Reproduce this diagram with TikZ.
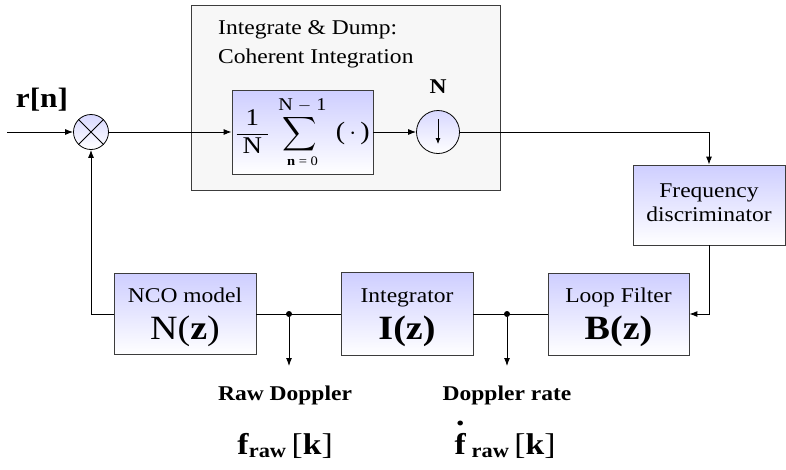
\documentclass[tikz,border=0pt]{standalone}
\usepackage{amsmath}
\usepackage{fontspec}
\setmainfont{Liberation Serif}[FakeStretch=1.12]
\usepackage{tikz}
\usetikzlibrary{arrows.meta, positioning, calc}
\definecolor{boxblue}{RGB}{206, 206, 255}
\definecolor{boxedge}{RGB}{60, 60, 60}
\definecolor{dumpgray}{RGB}{247, 247, 247}
\tikzset{
    block/.style={rectangle, draw=boxedge, top color=boxblue, bottom color=white, line width=0.8pt, align=center, inner sep=2pt, font=\fontsize{21}{24}\selectfont},
    tfblock/.style={block, font=\fontsize{34}{37}\selectfont},
    junction/.style={circle, draw=black, top color=boxblue!80, bottom color=white, line width=0.8pt, minimum size=35pt, inner sep=0pt},
    sig/.style={line width=0.9pt, -{Latex[length=8pt,width=6pt]}},
    wire/.style={line width=0.9pt},
    tap/.style={circle, fill=black, inner sep=0pt, minimum size=6pt},
    outlabel/.style={anchor=base, font=\fontsize{21}{24}\selectfont\bfseries},
    outsymbol/.style={anchor=base, font=\fontsize{30}{32}\selectfont}
}

\begin{document}
\begin{tikzpicture}[x=1pt, y=-1pt]
    \useasboundingbox (0,0) rectangle (786,469);

    % Integrate & Dump frame
    \draw[draw=boxedge, fill=dumpgray, line width=0.8pt] (191,5) rectangle (500,190);
    \node[anchor=base west, inner sep=0pt, font=\fontsize{21}{24}\selectfont] (dumptitle) at (218,34) {Integrate \& Dump:};
    \node[anchor=base west, inner sep=0pt, font=\fontsize{21}{24}\selectfont] (dumpsub) at (218,63) {Coherent Integration};

    % Forward path
    \node[junction] (mult) at (91,132) {};
    \draw[line width=0.8pt] (mult.north west) -- (mult.south east);
    \draw[line width=0.8pt] (mult.north east) -- (mult.south west);
    \node[font=\fontsize{28}{30}\selectfont\bfseries] (rin) at (42,100) {r[n]};
    \coordinate (in) at (7,132);

    \node[block, minimum width=141pt, minimum height=84pt] (avg) at (302.5,132)
        {$\displaystyle\frac{\hspace{9pt}\text{\fontsize{24}{26}\selectfont 1}\hspace{9pt}}{\text{\fontsize{24}{26}\selectfont N}}\;
         \mathop{\scalebox{1.15}{$\displaystyle\sum$}}\limits_{\text{\fontsize{13}{14}\selectfont\textbf{n} = 0}}^{\text{\fontsize{18}{20}\selectfont N $-$ 1}}\;
         \text{\fontsize{25}{26}\selectfont(\,$\cdot$\,)}$};

    \node[junction, minimum size=43pt] (down) at (438,132) {};
    \draw[line width=0.8pt, -{Latex[length=6pt,width=5pt]}] ([yshift=13pt]down.center) -- ([yshift=-12pt]down.center);
    \node[anchor=base, font=\fontsize{21}{24}\selectfont\bfseries] (decim) at (438,93) {N};

    \node[block, minimum width=152pt, minimum height=80pt] (freq) at (709,205) {Frequency\\discriminator\rule[-4pt]{0pt}{4pt}};

    % Feedback path
    \node[tfblock, minimum width=141pt, minimum height=82pt] (loop) at (618.5,314)
        {{\fontsize{21}{24}\selectfont\rule{0pt}{22pt}Loop Filter}\\\textbf{B(z)}};
    \node[tfblock, minimum width=132pt, minimum height=83pt] (integ) at (407,314)
        {{\fontsize{21}{24}\selectfont\rule{0pt}{22pt}Integrator}\\\textbf{I(z)}};
    \node[tfblock, minimum width=142pt, minimum height=81pt] (nco) at (185,314)
        {{\fontsize{21}{24}\selectfont\rule{0pt}{22pt}NCO model}\\N(\textbf{z})};

    \node[tap] (tapraw) at (289,314) {};
    \node[tap] (taprate) at (507,314) {};
    \coordinate (outraw) at (289,366);
    \coordinate (outrate) at (507,366);

    % Connectors
    \draw[sig] (in) -- (mult);
    \draw[sig] (mult) -- (avg);
    \draw[sig] (avg) -- (down);
    \draw[sig] (down) -| (freq);
    \draw[sig] (freq.south) |- (loop.east);
    \draw[wire] (loop) -- (integ);
    \draw[wire] (integ) -- (nco);
    \draw[sig] (nco.west) -| (mult.south);
    \draw[sig] (tapraw) -- (outraw);
    \draw[sig] (taprate) -- (outrate);

    % Outputs
    \node[outlabel] (rawlabel) at (285,400) {Raw Doppler};
    \node[outlabel] (ratelabel) at (507,400) {Doppler rate};
    \node[outsymbol] (rawsym) at (285,454)
        {\textbf{f}\textsubscript{\fontsize{20}{22}\selectfont\bfseries raw}\,[\textbf{k}]};
    \node[outsymbol] (ratesym) at (505,454)
        {\rlap{\hspace{1.5pt}\raisebox{29pt}{\bfseries .}}\textbf{f}\textsubscript{\fontsize{20}{22}\selectfont\bfseries\ raw}\,[\textbf{k}]};
\end{tikzpicture}
\end{document}
